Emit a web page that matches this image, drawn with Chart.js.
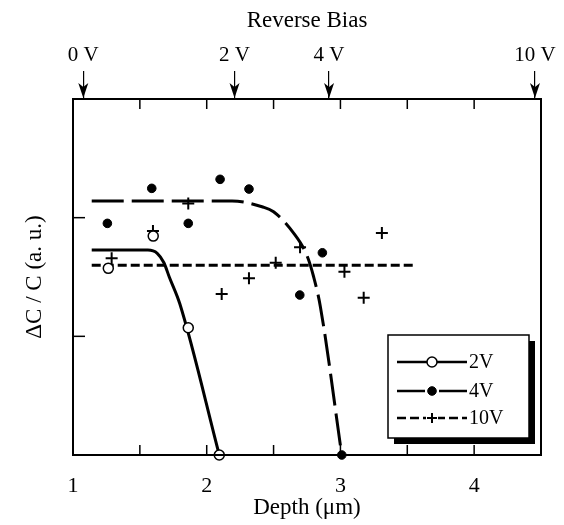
<!DOCTYPE html>
<html><head><meta charset="utf-8">
<script src="https://cdn.jsdelivr.net/npm/chart.js@4"></script>
<style>html,body{margin:0;padding:0;background:#fff}</style>
</head><body>
<div style="width:564px;height:525px;position:relative"><canvas id="c"></canvas></div>
<script>
const seriesNames = ['2V', '4V', '10V'];
const depthLabels = [1, 2, 3, 4];
const minorTicks = [1.5, 2, 2.5, 3, 3.5, 4];
const yTickValues = [1, 2];
const biasPositions = [1.077, 2.208, 2.915, 4.455];
const biasLabels = ['0 V', '2 V', '4 V', '10 V'];

// measured points
const x2V = [1.264, 1.60, 1.862, 2.094];
const y2V = [1.573, 1.845, 1.072, 0];
const x4V = [1.257, 1.589, 1.862, 2.10, 2.316, 2.696, 2.865, 3.01];
const y4V = [1.952, 2.247, 1.952, 2.323, 2.241, 1.348, 1.704, 0];
const x10V = [1.289, 1.598, 1.862, 2.112, 2.316, 2.516, 2.698, 3.03, 3.174, 3.31];
const y10V = [1.657, 1.887, 2.12, 1.356, 1.489, 1.62, 1.75, 1.544, 1.325, 1.87];

// fitted curves
const fit2Vx = [1.14, 1.56, 1.63, 1.68, 1.72, 1.80, 2.094];
const fit2Vy = [1.727, 1.727, 1.70, 1.62, 1.50, 1.27, 0];
const fit4Vx = [1.14, 2.19, 2.42, 2.50, 2.65, 2.75, 2.80, 2.85, 3.01];
const fit4Vy = [2.14, 2.14, 2.09, 2.05, 1.87, 1.68, 1.50, 1.25, 0];
const fit10Vx = [1.14, 3.55];
const fit10Vy = [1.60, 1.60];

const dash4V = [32, 8];
const dash10V = [9, 4];
const FONT = '"Liberation Serif", "Times New Roman", serif';

const zip = (xs, ys) => xs.map((v, i) => ({x: v, y: ys[i]}));

const pointSets = [
  {label: seriesNames[0], data: zip(x2V, y2V), pointStyle: 'circle', pointRadius: 5, pointBackgroundColor: '#fff', pointBorderColor: '#000', pointBorderWidth: 1.5},
  {label: seriesNames[1], data: zip(x4V, y4V), pointStyle: 'circle', pointRadius: 4.3, pointBackgroundColor: '#000', pointBorderColor: '#000', pointBorderWidth: 1},
  {label: seriesNames[2], data: zip(x10V, y10V), pointStyle: 'cross', pointRadius: 6, pointBackgroundColor: '#000', pointBorderColor: '#000', pointBorderWidth: 2}
].map(d => Object.assign(d, {showLine: false, clip: false, pointHoverRadius: d.pointRadius}));

const lineSets = [
  {label: seriesNames[0] + ' fit', data: zip(fit2Vx, fit2Vy), borderDash: [], borderWidth: 3},
  {label: seriesNames[1] + ' fit', data: zip(fit4Vx, fit4Vy), borderDash: dash4V, borderWidth: 3},
  {label: seriesNames[2] + ' fit', data: zip(fit10Vx, fit10Vy), borderDash: dash10V, borderWidth: 3}
].map(d => Object.assign(d, {showLine: true, pointRadius: 0, borderColor: '#000', fill: false, cubicInterpolationMode: 'monotone', clip: false}));

function line(ctx, x1, y1, x2, y2) { ctx.beginPath(); ctx.moveTo(x1, y1); ctx.lineTo(x2, y2); ctx.stroke(); }

const deco = {
  id: 'deco',
  afterDraw(chart) {
    const {ctx, chartArea: a, scales: {x, y}} = chart;
    ctx.save();
    ctx.strokeStyle = '#000'; ctx.fillStyle = '#000';
    ctx.lineWidth = 2;
    ctx.strokeRect(a.left, a.top, a.right - a.left, a.bottom - a.top);
    ctx.lineWidth = 1.5;
    minorTicks.forEach(v => {
      const px = x.getPixelForValue(v);
      line(ctx, px, a.bottom, px, a.bottom - 10);
      line(ctx, px, a.top, px, a.top + 10);
    });
    yTickValues.forEach(v => {
      const py = y.getPixelForValue(v);
      line(ctx, a.left, py, a.left + 12, py);
    });
    // arrowheads
    biasPositions.forEach(v => {
      const px = x.getPixelForValue(v);
      ctx.beginPath();
      ctx.moveTo(px, a.top - 1);
      ctx.lineTo(px - 5, a.top - 16);
      ctx.lineTo(px, a.top - 12);
      ctx.lineTo(px + 5, a.top - 16);
      ctx.closePath(); ctx.fill();
    });
    // titles
    const cx = (a.left + a.right) / 2;
    ctx.textAlign = 'center'; ctx.textBaseline = 'middle';
    ctx.font = '23px ' + FONT;
    ctx.fillText('Reverse Bias', cx, 21);
    ctx.fillText('Depth (\u03bcm)', cx, 508);
    ctx.save();
    ctx.translate(35, (a.top + a.bottom) / 2);
    ctx.rotate(-Math.PI / 2);
    ctx.fillText('\u0394C / C (a. u.)', 0, 0);
    ctx.restore();
    // legend
    const bx = 388, by = 335, bw = 141, bh = 103, sh = 6;
    ctx.fillRect(bx + sh, by + sh, bw, bh);
    ctx.fillStyle = '#fff';
    ctx.fillRect(bx, by, bw, bh);
    ctx.fillStyle = '#000';
    ctx.lineWidth = 1.5;
    ctx.strokeRect(bx, by, bw, bh);
    const rows = [362, 391, 418];
    const lx1 = 397, lx2 = 467, mx = 432;
    ctx.font = '20px ' + FONT; ctx.textAlign = 'left';
    rows.forEach((ry, i) => {
      const ls = lineSets[i], ps = pointSets[i];
      ctx.lineWidth = 2.5;
      ctx.setLineDash(i === 1 ? [] : ls.borderDash);
      if (i === 1) { line(ctx, lx1, ry, mx - 7, ry); line(ctx, mx + 7, ry, lx2, ry); }
      else line(ctx, lx1, ry, lx2, ry);
      ctx.setLineDash([]);
      ctx.lineWidth = ps.pointBorderWidth;
      if (ps.pointStyle === 'circle') {
        ctx.beginPath(); ctx.arc(mx, ry, ps.pointRadius, 0, Math.PI * 2);
        ctx.fillStyle = ps.pointBackgroundColor; ctx.fill();
        ctx.strokeStyle = '#000'; ctx.stroke(); ctx.fillStyle = '#000';
      } else {
        ctx.fillStyle = '#fff'; ctx.fillRect(mx - 6, ry - 3, 12, 6); ctx.fillStyle = '#000';
        line(ctx, mx - 5, ry, mx + 5, ry); line(ctx, mx, ry - 5, mx, ry + 5);
      }
      ctx.fillText(seriesNames[i], 469, ry + 1);
    });
    ctx.restore();
  }
};

new Chart(document.getElementById('c'), {
  type: 'scatter',
  data: {datasets: [...pointSets, ...lineSets]},
  options: {
    responsive: true, maintainAspectRatio: false, animation: false,
    layout: {padding: {left: 73, right: 23, top: 0, bottom: 0}},
    plugins: {legend: {display: false}, tooltip: {enabled: false}},
    scales: {
      x: {
        type: 'linear', position: 'bottom', min: 1, max: 4.5,
        afterBuildTicks: s => { s.ticks = depthLabels.map(v => ({value: v})); },
        afterFit: s => { s.height = 70; s.paddingLeft = 0; s.paddingRight = 0; },
        ticks: {color: '#000', font: {family: FONT, size: 22}, padding: 18, maxRotation: 0, autoSkip: false},
        grid: {display: false, drawTicks: false}, border: {display: false}
      },
      x2: {
        type: 'linear', position: 'top', min: 1, max: 4.5,
        afterBuildTicks: s => { s.ticks = biasPositions.map(v => ({value: v})); },
        afterFit: s => { s.height = 99; s.paddingLeft = 0; s.paddingRight = 0; },
        ticks: {color: '#000', font: {family: FONT, size: 21}, padding: 3, maxRotation: 0, autoSkip: false,
                callback: (v, i) => biasLabels[i]},
        grid: {display: true, drawOnChartArea: false, drawTicks: true, tickLength: 28, color: '#000', lineWidth: 1.2},
        border: {display: false}
      },
      y: {
        type: 'linear', min: 0, max: 3, display: false
      }
    }
  },
  plugins: [deco]
});
</script>
</body></html>
